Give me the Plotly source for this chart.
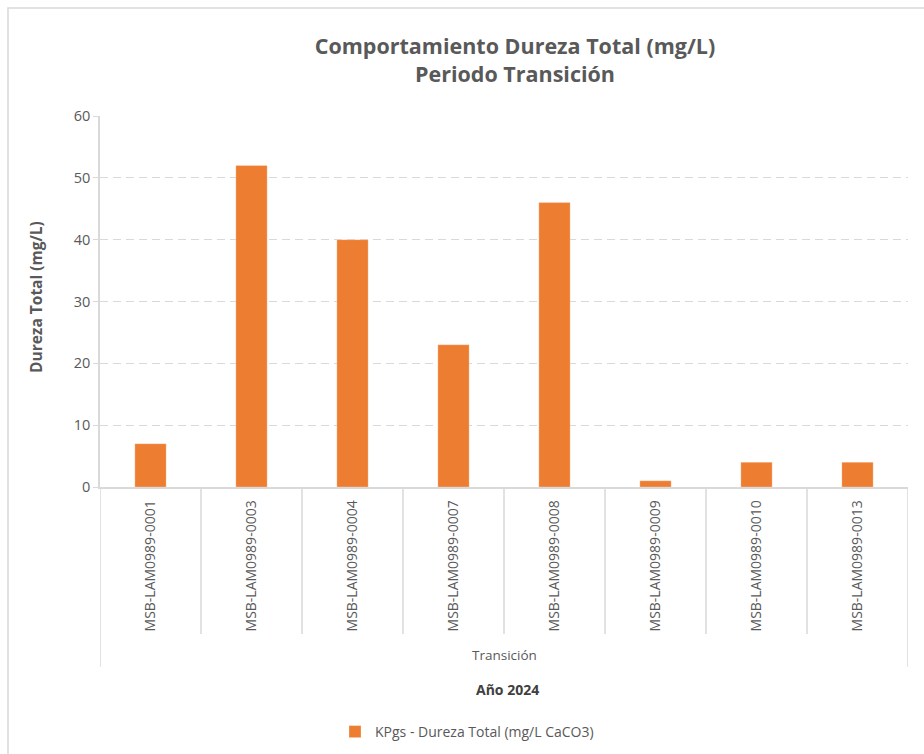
import plotly.graph_objects as go

# datos
pozos = [
    "MSB-LAM0989-0001",
    "MSB-LAM0989-0003",
    "MSB-LAM0989-0004",
    "MSB-LAM0989-0007",
    "MSB-LAM0989-0008",
    "MSB-LAM0989-0009",
    "MSB-LAM0989-0010",
    "MSB-LAM0989-0013",
]
dureza = [7, 52, 40, 23, 46, 1, 4, 4]
serie = "KPgs - Dureza Total (mg/L CaCO3)"
grupo = "Transición"
anio = "Año 2024"

ORANGE = "#ED7D31"
GREY = "#595959"
LINE = "#D9D9D9"
FONT = "Open Sans, Lato, sans-serif"

W, H = 924, 754
L, R, T, B = 100, 16, 116, 267
pw, ph = W - L - R, H - T - B


def px_x(px):
    return (px - L) / pw


def px_y(py):
    return (H - B - py) / ph


fig = go.Figure(
    go.Bar(
        x=list(range(len(pozos))),
        y=dureza,
        name=serie,
        marker=dict(color=ORANGE, line=dict(color="rgba(255,255,255,0.5)", width=0.5)),
        showlegend=True,
    )
)

# divisores de categoría bajo el eje
shapes = []
for i in range(len(pozos) + 1):
    outer = i in (0, len(pozos))
    shapes.append(
        dict(
            type="line", xref="x", yref="paper",
            x0=i - 0.5, x1=i - 0.5,
            y0=0, y1=px_y(667) if outer else px_y(634),
            line=dict(color=LINE, width=1.5),
        )
    )

# marco del gráfico
shapes.append(
    dict(
        type="rect", xref="paper", yref="paper",
        x0=px_x(8), x1=px_x(960), y0=px_y(8), y1=px_y(790),
        line=dict(color=LINE, width=1.5),
        fillcolor="rgba(0,0,0,0)", layer="below",
    )
)

fig.update_layout(
    width=W,
    height=H,
    margin=dict(l=L, r=R, t=T, b=B, autoexpand=False),
    paper_bgcolor="white",
    plot_bgcolor="white",
    font=dict(family=FONT, color=GREY, size=14),
    bargap=0.69,
    title=dict(
        text="<b>Comportamiento Dureza Total (mg/L)<br>Periodo Transición</b>",
        x=515 / W,
        xanchor="center",
        y=1 - 54 / H,
        yanchor="middle",
        font=dict(size=21.5, color=GREY, family=FONT),
    ),
    xaxis=dict(
        tickmode="array",
        tickvals=list(range(len(pozos))),
        ticktext=pozos,
        tickangle=-90,
        tickfont=dict(size=14, color=GREY),
        range=[-0.5, len(pozos) - 0.5],
        showgrid=False,
        showline=True,
        linecolor=LINE,
        linewidth=1.5,
        zeroline=False,
        ticks="",
        ticklabelstandoff=6,
    ),
    yaxis=dict(
        range=[0, 60],
        tickvals=[0, 10, 20, 30, 40, 50, 60],
        tickfont=dict(size=14.5, color=GREY),
        showgrid=True,
        gridcolor=LINE,
        gridwidth=1.3,
        griddash="8px,5px",
        showline=True,
        linecolor=LINE,
        linewidth=1.5,
        ticks="outside",
        ticklen=5,
        tickcolor=LINE,
        zeroline=False,
    ),
    legend=dict(
        orientation="h",
        x=px_x(467),
        xanchor="center",
        y=px_y(732),
        yanchor="middle",
        font=dict(size=14, color=GREY),
        itemwidth=30,
    ),
    shapes=shapes,
)

fig.add_annotation(
    text="<b>Dureza Total (mg/L)</b>",
    textangle=-90,
    xref="paper", yref="paper",
    x=px_x(36), y=px_y(297),
    xanchor="center", yanchor="middle",
    showarrow=False,
    font=dict(size=15.5, color=GREY),
)
fig.add_annotation(
    text=grupo,
    xref="paper", yref="paper",
    x=0.5, y=px_y(655),
    xanchor="center", yanchor="middle",
    showarrow=False,
    font=dict(size=13.5, color=GREY),
)
fig.add_annotation(
    text=f"<b>{anio}</b>",
    xref="paper", yref="paper",
    x=px_x(507), y=px_y(689),
    xanchor="center", yanchor="middle",
    showarrow=False,
    font=dict(size=14, color="#404040"),
)

fig.write_html(
    "out.html",
    config={"displayModeBar": False},
    post_script="document.body.style.margin='0';document.body.style.overflow='hidden';",
)
